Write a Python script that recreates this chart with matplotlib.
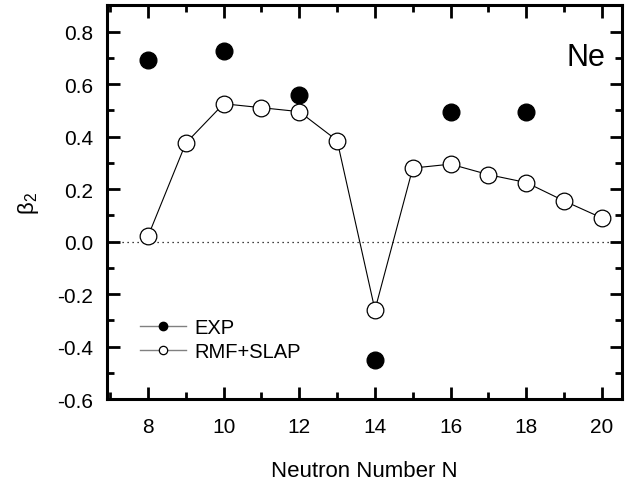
import numpy as np
import matplotlib.pyplot as plt
from matplotlib.ticker import MultipleLocator

plt.rcParams['font.family'] = ['Liberation Sans', 'DejaVu Sans']

n_exp = [8, 10, 12, 14, 16, 18]
beta_exp = [0.69, 0.725, 0.56, -0.45, 0.495, 0.495]

n_rmf = [8, 9, 10, 11, 12, 13, 14, 15, 16, 17, 18, 19, 20]
beta_rmf = [0.02, 0.375, 0.525, 0.51, 0.495, 0.385, -0.26, 0.28, 0.295, 0.255, 0.225, 0.155, 0.09]

fig = plt.figure(figsize=(6.34, 4.85), dpi=100)
ax = fig.add_axes([0.169, 0.175, 0.812, 0.812])

ax.axhline(0, color='black', lw=0.9, ls=(0, (1, 3)))
ax.plot(n_exp, beta_exp, 'o', color='black', ms=12, label='EXP')
ax.plot(n_rmf, beta_rmf, '-o', color='black', lw=0.8, ms=12,
        mfc='white', mec='black', mew=0.9, label='RMF+SLAP')

ax.set_xlim(6.92, 20.53)
ax.set_ylim(-0.6, 0.9)
ax.xaxis.set_major_locator(MultipleLocator(2))
ax.xaxis.set_minor_locator(MultipleLocator(1))
ax.yaxis.set_major_locator(MultipleLocator(0.2))
ax.yaxis.set_minor_locator(MultipleLocator(0.1))
ax.yaxis.set_major_formatter(plt.FormatStrFormatter('%.1f'))
ax.tick_params(which='both', direction='in', top=True, right=True, width=2, labelsize=15)
ax.tick_params(which='major', length=9)
ax.tick_params(which='minor', length=5)
ax.tick_params(axis='x', which='major', pad=13)
ax.tick_params(axis='y', which='major', pad=10)
for s in ax.spines.values():
    s.set_linewidth(2.2)

ax.set_xlabel('Neutron Number N', fontsize=16, labelpad=17)
ax.set_ylabel(r'$\mathregular{\beta_2}$', fontsize=16, labelpad=12)
ax.text(0.93, 0.87, 'Ne', transform=ax.transAxes, fontsize=22, ha='center', va='center')

leg = ax.legend(loc='upper left', bbox_to_anchor=(0.064, 0.207), frameon=False, fontsize=14.5,
                markerscale=0.5, handlelength=2.3, handletextpad=0.4, labelspacing=0.25,
                borderpad=0, borderaxespad=0)
for h, fc in zip(leg.legend_handles, ['black', 'white']):
    h.set_linestyle('-')
    h.set_linewidth(1.0)
    h.set_color('gray')
    h.set_markerfacecolor(fc)
    h.set_markeredgecolor('black')

fig.savefig('out.png', dpi=100)
